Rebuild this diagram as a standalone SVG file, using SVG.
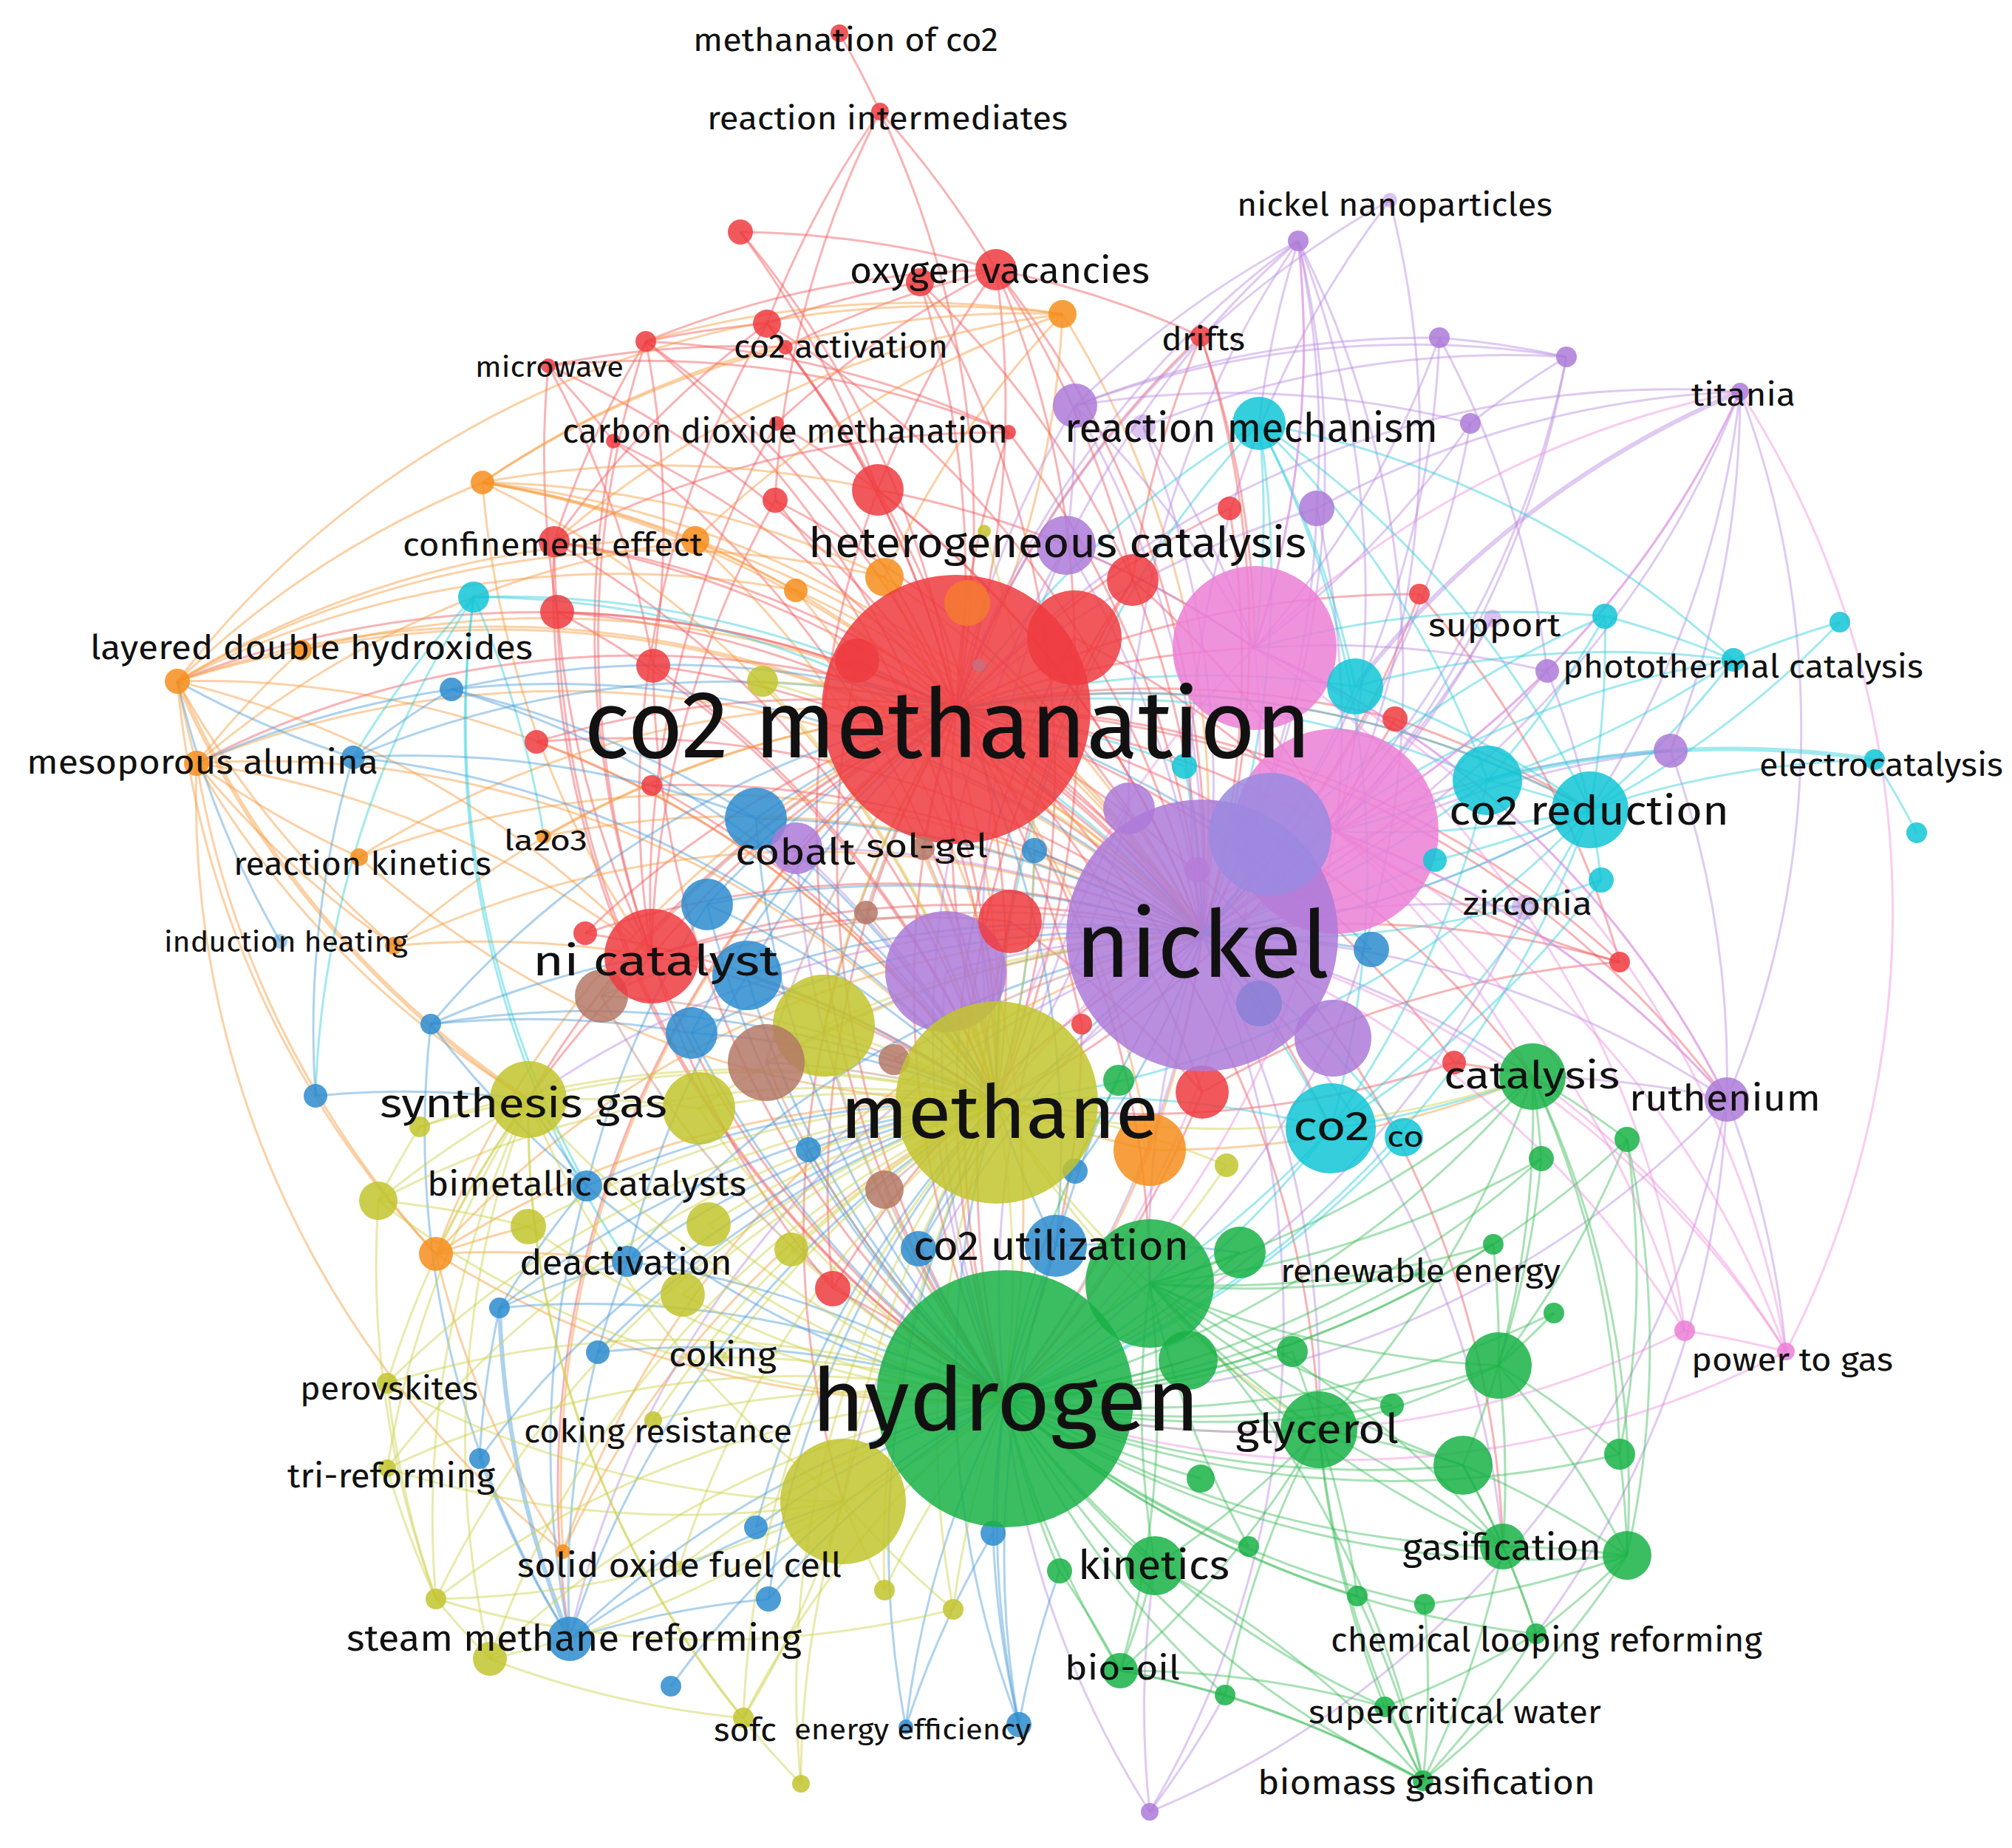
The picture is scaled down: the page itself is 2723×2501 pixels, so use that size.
<svg xmlns="http://www.w3.org/2000/svg" width="2723" height="2501" viewBox="0 0 2723 2501">
<style>
.R{fill:#ee3b40}.G{fill:#19b246}.B{fill:#2d8ccf}.Y{fill:#c2c42e}.P{fill:#ad7ad8}.C{fill:#10c6d6}.O{fill:#f68e1c}.N{fill:#b47866}.K{fill:#ec7fd6}
circle{fill-opacity:.85}
circle.f{fill-opacity:.45}
text{font-family:"Fira Sans","Open Sans","Noto Sans",sans-serif;fill:#111}
#edges path{fill:none;stroke-width:3;stroke-opacity:.45}
#edges path.t{stroke-width:6}
.er path{stroke:#f0565a}.eo path{stroke:#f79a3a}.ep path{stroke:#b98ae0}.ec path{stroke:#2fcfdc}.eb path{stroke:#4b9bd8}.ey path{stroke:#cdd048}.en path{stroke:#bf8f82}.eg path{stroke:#3dbd5c}.ek path{stroke:#f08ddd}
</style>
<rect width="2723" height="2501" fill="#fff"/>
<g id="edges">
<g class="er">
<path d="M1136 45A1300 1300 0 0 1 1191 151"/><path d="M1191 151A1300 1300 0 0 1 1348 365"/><path d="M1191 151A1300 1300 0 0 0 1038 438"/><path d="M1191 151A1300 1300 0 0 1 1294 960"/><path d="M1191 151A1300 1300 0 0 0 1049 677"/>
<path d="M1002 314A1300 1300 0 0 1 1348 365"/><path d="M1002 314A1300 1300 0 0 1 1294 960"/><path d="M1002 314A1300 1300 0 0 1 1188 663"/>
<path d="M1348 365A1300 1300 0 0 1 1625 455"/><path d="M1348 365A1300 1300 0 0 1 1294 960"/><path d="M1348 365A1300 1300 0 0 1 1627 1266"/><path d="M1348 365A1300 1300 0 0 1 1533 785"/><path d="M1348 365A1300 1300 0 0 0 1188 663"/><path d="M1348 365A1300 1300 0 0 0 874 462"/><path d="M1348 365A1300 1300 0 0 1 1454 863"/><path d="M1348 365A1300 1300 0 0 0 1051 573"/>
<path d="M1245 382A1300 1300 0 0 0 1038 438"/><path d="M1245 382A1300 1300 0 0 1 1294 960"/><path d="M1245 382A1300 1300 0 0 1 1533 785"/><path d="M1245 382A1300 1300 0 0 1 1349 1492"/>
<path d="M1038 438A1300 1300 0 0 0 874 462"/><path d="M1038 438A1300 1300 0 0 1 1294 960"/><path d="M1038 438A1300 1300 0 0 1 1188 663"/><path d="M1038 438A1300 1300 0 0 0 882 1294"/><path d="M1038 438A1300 1300 0 0 0 750 733"/><path d="M1038 438A1300 1300 0 0 1 1627 1266"/>
<path d="M874 462A1300 1300 0 0 1 1365 585"/><path d="M874 462A1300 1300 0 0 1 1294 960"/><path d="M874 462A1300 1300 0 0 0 750 733"/><path d="M874 462A1300 1300 0 0 1 884 901"/><path d="M874 462A1300 1300 0 0 0 882 1294"/><path d="M874 462A1300 1300 0 0 1 1349 1492"/>
<path d="M742 495A1300 1300 0 0 1 830 597"/><path d="M742 495A1300 1300 0 0 1 1294 960"/><path d="M742 495A1300 1300 0 0 0 754 828"/><path d="M742 495A1300 1300 0 0 1 1365 585"/><path d="M742 495A1300 1300 0 0 1 884 901"/>
<path d="M1625 455A1300 1300 0 0 0 1294 960"/><path d="M1625 455A1300 1300 0 0 1 1627 1266"/><path d="M1625 455A1300 1300 0 0 0 1533 785"/><path d="M1625 455A1300 1300 0 0 1 1698 877"/>
<path d="M1365 585A1300 1300 0 0 0 1294 960"/><path d="M1365 585A1300 1300 0 0 1 1627 1266"/><path d="M1365 585A1300 1300 0 0 0 750 733"/>
<path d="M1051 573A1300 1300 0 0 1 1294 960"/><path d="M1051 573A1300 1300 0 0 0 882 1294"/><path d="M1051 573A1300 1300 0 0 1 1627 1266"/>
<path d="M830 597A1300 1300 0 0 1 1294 960"/><path d="M830 597A1300 1300 0 0 0 882 1294"/><path d="M830 597A1300 1300 0 0 1 1349 1492"/>
<path d="M1188 663A1300 1300 0 0 1 1627 1266"/><path d="M1188 663A1300 1300 0 0 1 1349 1492"/><path d="M1188 663A1300 1300 0 0 0 1360 1893"/><path d="M1188 663A1300 1300 0 0 1 1698 877"/>
<path d="M1049 677A1300 1300 0 0 1 1627 1266"/><path d="M1049 677A1300 1300 0 0 0 882 1294"/><path d="M1049 677A1300 1300 0 0 1 1349 1492"/>
<path d="M750 733A1300 1300 0 0 1 1294 960"/><path d="M750 733A1300 1300 0 0 0 882 1294"/><path d="M750 733A1300 1300 0 0 1 1627 1266"/><path d="M750 733A1300 1300 0 0 1 1349 1492"/><path d="M750 733A1300 1300 0 0 0 1360 1893"/>
<path d="M1664 688A1300 1300 0 0 0 1294 960"/><path d="M1664 688A1300 1300 0 0 1 1627 1266"/>
<path d="M1533 785A1300 1300 0 0 1 1627 1266"/><path d="M1533 785A1300 1300 0 0 0 1349 1492"/><path d="M1533 785A1300 1300 0 0 0 1360 1893"/><path d="M1533 785A1300 1300 0 0 1 1808 1125"/>
<path d="M754 828A1300 1300 0 0 1 1294 960"/><path d="M754 828A1300 1300 0 0 1 1627 1266"/><path d="M754 828A1300 1300 0 0 1 1349 1492"/><path d="M754 828A1300 1300 0 0 0 1360 1893"/>
<path d="M884 901A1300 1300 0 0 1 1627 1266"/><path d="M884 901A1300 1300 0 0 1 1349 1492"/><path d="M884 901A1300 1300 0 0 0 1360 1893"/>
<path d="M1454 863A1300 1300 0 0 1 1349 1492"/><path d="M1454 863A1300 1300 0 0 0 1360 1893"/><path d="M1454 863A1300 1300 0 0 1 1808 1125"/>
<path d="M1160 894A1300 1300 0 0 1 1627 1266"/><path d="M1160 894A1300 1300 0 0 0 1360 1893"/>
<path d="M726 1004A1300 1300 0 0 1 1294 960"/><path d="M726 1004A1300 1300 0 0 1 1627 1266"/><path d="M726 1004A1300 1300 0 0 1 1349 1492"/>
<path d="M882 1063A1300 1300 0 0 1 1627 1266"/><path d="M882 1063A1300 1300 0 0 1 1349 1492"/>
<path d="M1921 804A1300 1300 0 0 0 1294 960"/><path d="M1921 804A1300 1300 0 0 1 1627 1266"/><path d="M1921 804A1300 1300 0 0 1 2192 1302"/>
<path d="M1888 973A1300 1300 0 0 0 1294 960"/><path d="M1888 973A1300 1300 0 0 1 2152 1096"/><path d="M1888 973A1300 1300 0 0 1 1349 1492"/>
<path d="M882 1294A1300 1300 0 0 1 1294 960"/><path d="M882 1294A1300 1300 0 0 1 1627 1266"/><path d="M882 1294A1300 1300 0 0 1 1349 1492"/><path d="M882 1294A1300 1300 0 0 0 1360 1893"/><path d="M882 1294A1300 1300 0 0 0 715 1488"/><path d="M882 1294A1300 1300 0 0 0 1127 1744"/><path d="M882 1294A1300 1300 0 0 1 1367 1247"/>
<path d="M792 1263A1300 1300 0 0 1 1294 960"/><path d="M792 1263A1300 1300 0 0 1 1627 1266"/><path d="M792 1263A1300 1300 0 0 1 1349 1492"/>
<path d="M1367 1247A1300 1300 0 0 1 1627 1478"/><path d="M1367 1247A1300 1300 0 0 0 1360 1893"/>
<path d="M1464 1386A1300 1300 0 0 0 1294 960"/><path d="M1464 1386A1300 1300 0 0 1 1360 1893"/>
<path d="M1627 1478A1300 1300 0 0 0 1294 960"/><path d="M1627 1478A1300 1300 0 0 1 1360 1893"/><path d="M1627 1478A1300 1300 0 0 1 2192 1302"/>
<path d="M1968 1438A1300 1300 0 0 0 1294 960"/><path d="M1968 1438A1300 1300 0 0 1 1349 1492"/><path d="M1968 1438A1300 1300 0 0 1 2074 1457"/>
<path d="M2192 1302A1300 1300 0 0 0 1294 960"/><path d="M2192 1302A1300 1300 0 0 0 1627 1266"/><path d="M2192 1302A1300 1300 0 0 1 1808 1125"/>
<path d="M1127 1744A1300 1300 0 0 1 1294 960"/><path d="M1127 1744A1300 1300 0 0 1 1627 1266"/><path d="M1127 1744A1300 1300 0 0 1 1360 1893"/>
<path d="M1294 960A1300 1300 0 0 1 1627 1266"/><path d="M1294 960A1300 1300 0 0 0 1349 1492"/><path d="M1294 960A1300 1300 0 0 0 1360 1893"/><path d="M1294 960A1300 1300 0 0 1 1698 877"/><path d="M1294 960A1300 1300 0 0 1 1808 1125"/><path d="M1294 960A1300 1300 0 0 1 1556 1737"/><path d="M1294 960A1300 1300 0 0 1 2152 1096"/><path d="M1294 960A1300 1300 0 0 1 1801 1527"/><path d="M1294 960A1300 1300 0 0 0 715 1488"/><path d="M1294 960A1300 1300 0 0 0 1141 2032"/><path d="M1294 960A1300 1300 0 0 1 1785 1935"/><path d="M1294 960A1300 1300 0 0 1 2074 1457"/><path d="M1294 960A1300 1300 0 0 1 2337 1488"/><path d="M1294 960A1300 1300 0 0 0 240 922"/><path d="M1294 960A1300 1300 0 0 0 266 1033"/><path d="M1294 960A1300 1300 0 0 0 771 2218"/><path d="M1294 960A1300 1300 0 0 1 2034 2093"/>
<path d="M1063 470A1300 1300 0 0 1 1294 960"/><path d="M1063 470A1300 1300 0 0 0 742 495"/><path d="M1063 470A1300 1300 0 0 1 1348 365"/>
</g>
<g class="eo">
<path d="M1438 425A1300 1300 0 0 0 653 653"/><path d="M1438 425A1300 1300 0 0 0 941 731"/><path d="M1438 425A1300 1300 0 0 0 874 462"/><path d="M1438 425A1300 1300 0 0 1 1294 960"/><path d="M1438 425A1300 1300 0 0 0 1197 781"/><path d="M1438 425A1300 1300 0 0 0 750 733"/><path d="M1438 425A1300 1300 0 0 1 1627 1266"/><path d="M1438 425A1300 1300 0 0 0 240 922"/>
<path d="M653 653A1300 1300 0 0 1 1294 960"/><path d="M653 653A1300 1300 0 0 1 941 731"/><path d="M653 653A1300 1300 0 0 1 1197 781"/><path d="M653 653A1300 1300 0 0 1 1188 663"/><path d="M653 653A1300 1300 0 0 1 1627 1266"/><path d="M653 653A1300 1300 0 0 1 1077 799"/><path d="M653 653A1300 1300 0 0 0 882 1294"/><path d="M653 653A1300 1300 0 0 1 1349 1492"/><path d="M653 653A1300 1300 0 0 1 1063 470"/>
<path d="M941 731A1300 1300 0 0 1 1294 960"/><path d="M941 731A1300 1300 0 0 1 1627 1266"/><path d="M941 731A1300 1300 0 0 1 1349 1492"/><path d="M941 731A1300 1300 0 0 0 240 922"/><path d="M941 731A1300 1300 0 0 0 266 1033"/>
<path d="M1197 781A1300 1300 0 0 1 1627 1266"/><path d="M1197 781A1300 1300 0 0 1 1349 1492"/>
<path d="M1077 799A1300 1300 0 0 1 1627 1266"/><path d="M1077 799A1300 1300 0 0 0 240 922"/><path d="M1077 799A1300 1300 0 0 1 1360 1893"/>
<path d="M240 922A1300 1300 0 0 1 408 880"/><path d="M240 922A1300 1300 0 0 0 266 1033"/><path d="M240 922A1300 1300 0 0 1 1627 1266"/><path d="M240 922A1300 1300 0 0 1 1349 1492"/><path d="M240 922A1300 1300 0 0 0 590 1697"/><path class="t" d="M240 922A1300 1300 0 0 0 715 1488"/><path d="M240 922A1300 1300 0 0 0 533 1280"/><path d="M240 922A1300 1300 0 0 1 882 1294"/><path d="M240 922A1300 1300 0 0 1 653 653"/><path d="M240 922A1300 1300 0 0 1 1197 781"/>
<path d="M408 880A1300 1300 0 0 1 1294 960"/><path d="M408 880A1300 1300 0 0 0 266 1033"/><path d="M408 880A1300 1300 0 0 1 1627 1266"/>
<path d="M266 1033A1300 1300 0 0 1 1627 1266"/><path d="M266 1033A1300 1300 0 0 1 1349 1492"/><path d="M266 1033A1300 1300 0 0 0 486 1160"/><path d="M266 1033A1300 1300 0 0 0 590 1697"/><path d="M266 1033A1300 1300 0 0 0 533 1280"/><path d="M266 1033A1300 1300 0 0 1 882 1294"/><path d="M266 1033A1300 1300 0 0 0 715 1488"/><path d="M266 1033A1300 1300 0 0 0 762 2100"/>
<path d="M736 1132A1300 1300 0 0 1 1294 960"/><path d="M736 1132A1300 1300 0 0 1 1627 1266"/>
<path d="M486 1160A1300 1300 0 0 1 1294 960"/><path d="M486 1160A1300 1300 0 0 1 1627 1266"/><path d="M486 1160A1300 1300 0 0 0 1349 1492"/>
<path d="M533 1280A1300 1300 0 0 1 1294 960"/><path d="M533 1280A1300 1300 0 0 1 1627 1266"/><path d="M533 1280A1300 1300 0 0 1 882 1294"/>
<path d="M590 1697A1300 1300 0 0 1 1294 960"/><path d="M590 1697A1300 1300 0 0 1 1627 1266"/><path d="M590 1697A1300 1300 0 0 1 1349 1492"/><path d="M590 1697A1300 1300 0 0 0 1360 1893"/><path d="M590 1697A1300 1300 0 0 1 715 1660"/><path d="M590 1697A1300 1300 0 0 0 762 2100"/><path d="M590 1697A1300 1300 0 0 1 849 1707"/>
<path d="M762 2100A1300 1300 0 0 1 1294 960"/><path d="M762 2100A1300 1300 0 0 1 1627 1266"/><path d="M762 2100A1300 1300 0 0 1 1349 1492"/>
<path d="M1556 1556A1300 1300 0 0 0 1294 960"/><path d="M1556 1556A1300 1300 0 0 0 1627 1266"/><path d="M1556 1556A1300 1300 0 0 1 1349 1492"/><path d="M1556 1556A1300 1300 0 0 1 1360 1893"/><path d="M1556 1556A1300 1300 0 0 0 2074 1457"/>
</g>
<g class="ep">
<path d="M1757 326A1300 1300 0 0 0 1455 549"/><path d="M1757 326A1300 1300 0 0 1 1627 1266"/><path d="M1757 326A1300 1300 0 0 0 1294 960"/><path d="M1757 326A1300 1300 0 0 0 1443 738"/><path d="M1757 326A1300 1300 0 0 1 1698 877"/><path d="M1757 326A1300 1300 0 0 1 1782 688"/><path d="M1757 326A1300 1300 0 0 0 1704 573"/><path d="M1757 326A1300 1300 0 0 1 1808 1125"/><path d="M1757 326A1300 1300 0 0 0 1528 1094"/><path d="M1757 326A1300 1300 0 0 1 1804 1405"/>
<path d="M1881 271A1300 1300 0 0 0 1627 1266"/><path d="M1881 271A1300 1300 0 0 1 1808 1125"/><path d="M1881 271A1300 1300 0 0 0 1294 960"/>
<path d="M1948 457A1300 1300 0 0 1 1627 1266"/><path d="M1948 457A1300 1300 0 0 1 1698 877"/><path d="M1948 457A1300 1300 0 0 0 1455 549"/><path d="M1948 457A1300 1300 0 0 1 2120 483"/><path d="M1948 457A1300 1300 0 0 1 2094 908"/>
<path d="M2120 483A1300 1300 0 0 1 1627 1266"/><path d="M2120 483A1300 1300 0 0 0 1455 549"/><path d="M2120 483A1300 1300 0 0 0 1547 578"/><path d="M2120 483A1300 1300 0 0 1 1808 1125"/><path d="M2120 483A1300 1300 0 0 0 1990 573"/>
<path d="M2355 530A1300 1300 0 0 1 1627 1266"/><path d="M2355 530A1300 1300 0 0 1 2152 1096"/><path d="M2355 530A1300 1300 0 0 1 2261 1016"/><path d="M2355 530A1300 1300 0 0 1 2337 1488"/><path d="M2355 530A1300 1300 0 0 1 1808 1125"/><path class="t" d="M2355 530A1300 1300 0 0 0 1834 929"/><path d="M2355 530A1300 1300 0 0 0 1782 688"/><path d="M2355 530A1300 1300 0 0 0 1294 960"/>
<path d="M1990 573A1300 1300 0 0 1 1627 1266"/><path d="M1990 573A1300 1300 0 0 1 1698 877"/><path d="M1990 573A1300 1300 0 0 0 1455 549"/>
<path d="M1455 549A1300 1300 0 0 1 1627 1266"/><path d="M1455 549A1300 1300 0 0 0 1294 960"/><path d="M1455 549A1300 1300 0 0 1 1443 738"/><path d="M1455 549A1300 1300 0 0 1 1698 877"/>
<path d="M1547 578A1300 1300 0 0 1 1627 1266"/><path d="M1547 578A1300 1300 0 0 1 1698 877"/>
<path d="M1782 688A1300 1300 0 0 1 1627 1266"/><path d="M1782 688A1300 1300 0 0 0 1294 960"/><path d="M1782 688A1300 1300 0 0 1 1808 1125"/>
<path d="M1443 738A1300 1300 0 0 1 1627 1266"/><path d="M1443 738A1300 1300 0 0 1 1698 877"/><path d="M1443 738A1300 1300 0 0 0 1349 1492"/><path d="M1443 738A1300 1300 0 0 0 1360 1893"/>
<path d="M2020 837A1300 1300 0 0 1 1627 1266"/><path d="M2020 837A1300 1300 0 0 1 1808 1125"/>
<path d="M2094 908A1300 1300 0 0 1 1627 1266"/><path d="M2094 908A1300 1300 0 0 1 2152 1096"/><path d="M2094 908A1300 1300 0 0 0 1698 877"/>
<path d="M2261 1016A1300 1300 0 0 0 1627 1266"/><path d="M2261 1016A1300 1300 0 0 1 2337 1488"/><path d="M2261 1016A1300 1300 0 0 0 1808 1125"/>
<path d="M1528 1094A1300 1300 0 0 1 1349 1492"/><path d="M1528 1094A1300 1300 0 0 0 1360 1893"/>
<path d="M1078 1148A1300 1300 0 0 1 1627 1266"/><path d="M1078 1148A1300 1300 0 0 1 1294 960"/><path d="M1078 1148A1300 1300 0 0 1 1349 1492"/><path d="M1078 1148A1300 1300 0 0 0 1360 1893"/>
<path d="M1280 1315A1300 1300 0 0 1 1627 1266"/><path d="M1280 1315A1300 1300 0 0 0 1360 1893"/>
<path d="M2063 1228A1300 1300 0 0 0 1627 1266"/><path d="M2063 1228A1300 1300 0 0 1 1360 1893"/>
<path d="M1804 1405A1300 1300 0 0 1 1360 1893"/>
<path d="M2337 1488A1300 1300 0 0 0 1627 1266"/><path d="M2337 1488A1300 1300 0 0 0 1808 1125"/><path d="M2337 1488A1300 1300 0 0 1 1360 1893"/><path d="M2337 1488A1300 1300 0 0 1 2417 1829"/><path d="M2337 1488A1300 1300 0 0 0 2074 1457"/><path d="M2337 1488A1300 1300 0 0 0 1698 877"/><path d="M2337 1488A1300 1300 0 0 1 1556 2452"/><path d="M2337 1488A1300 1300 0 0 1 2079 2211"/>
<path d="M1556 2452A1300 1300 0 0 0 1627 1266"/><path d="M1556 2452A1300 1300 0 0 1 1360 1893"/><path d="M1556 2452A1300 1300 0 0 1 1563 2119"/><path d="M1556 2452A1300 1300 0 0 0 1658 2294"/>
<path d="M1627 1266A1300 1300 0 0 1 1349 1492"/><path d="M1627 1266A1300 1300 0 0 1 1360 1893"/><path d="M1627 1266A1300 1300 0 0 0 1556 1737"/><path d="M1627 1266A1300 1300 0 0 0 2152 1096"/><path d="M1627 1266A1300 1300 0 0 1 2074 1457"/><path d="M1627 1266A1300 1300 0 0 0 715 1488"/><path d="M1627 1266A1300 1300 0 0 0 1141 2032"/><path d="M1627 1266A1300 1300 0 0 1 1785 1935"/><path d="M1627 1266A1300 1300 0 0 1 2034 2093"/><path d="M1627 1266A1300 1300 0 0 0 771 2218"/>
</g>
<g class="ec">
<path d="M1704 573A1300 1300 0 0 0 1294 960"/><path d="M1704 573A1300 1300 0 0 1 1627 1266"/><path d="M1704 573A1300 1300 0 0 1 2152 1096"/><path d="M1704 573A1300 1300 0 0 1 1698 877"/><path d="M1704 573A1300 1300 0 0 1 2013 1056"/><path d="M1704 573A1300 1300 0 0 1 1834 929"/><path d="M1704 573A1300 1300 0 0 0 1349 1492"/><path d="M1704 573A1300 1300 0 0 1 1801 1527"/><path d="M1704 573A1300 1300 0 0 1 2346 893"/>
<path d="M641 808A1300 1300 0 0 1 1294 960"/><path d="M641 808A1300 1300 0 0 1 1627 1266"/><path d="M641 808A1300 1300 0 0 0 427 1483"/><path d="M641 808A1300 1300 0 0 0 849 1707"/><path d="M641 808A1300 1300 0 0 0 794 1605"/><path d="M641 808A1300 1300 0 0 1 736 1132"/><path d="M641 808A1300 1300 0 0 0 478 1025"/>
<path d="M2172 834A1300 1300 0 0 1 2152 1096"/><path d="M2172 834A1300 1300 0 0 1 2013 1056"/><path d="M2172 834A1300 1300 0 0 0 1627 1266"/><path d="M2172 834A1300 1300 0 0 0 1698 877"/><path d="M2172 834A1300 1300 0 0 1 2346 893"/>
<path d="M2490 842A1300 1300 0 0 0 2346 893"/><path d="M2490 842A1300 1300 0 0 1 2152 1096"/>
<path d="M2346 893A1300 1300 0 0 1 2152 1096"/><path d="M2346 893A1300 1300 0 0 1 2013 1056"/><path d="M2346 893A1300 1300 0 0 0 1627 1266"/><path d="M2346 893A1300 1300 0 0 0 1834 929"/>
<path d="M1834 929A1300 1300 0 0 1 1627 1266"/><path d="M1834 929A1300 1300 0 0 0 1294 960"/><path d="M1834 929A1300 1300 0 0 1 2152 1096"/>
<path d="M2013 1056A1300 1300 0 0 1 1627 1266"/><path d="M2013 1056A1300 1300 0 0 1 2152 1096"/><path d="M2013 1056A1300 1300 0 0 0 1294 960"/><path d="M2013 1056A1300 1300 0 0 1 1801 1527"/><path d="M2013 1056A1300 1300 0 0 1 1808 1125"/>
<path d="M2537 1028A1300 1300 0 0 0 2152 1096"/><path d="M2537 1028A1300 1300 0 0 1 2594 1127"/><path class="t" d="M2537 1028A1300 1300 0 0 0 2013 1056"/>
<path d="M2152 1096A1300 1300 0 0 1 1627 1266"/><path d="M2152 1096A1300 1300 0 0 0 1294 960"/><path d="M2152 1096A1300 1300 0 0 1 1801 1527"/><path d="M2152 1096A1300 1300 0 0 1 1349 1492"/><path d="M2152 1096A1300 1300 0 0 1 1360 1893"/><path d="M2152 1096A1300 1300 0 0 1 2167 1191"/><path d="M2152 1096A1300 1300 0 0 1 1808 1125"/>
<path d="M1603 1037A1300 1300 0 0 0 1294 960"/><path d="M1603 1037A1300 1300 0 0 1 1627 1266"/>
<path d="M1942 1164A1300 1300 0 0 1 1627 1266"/><path d="M1942 1164A1300 1300 0 0 0 2152 1096"/>
<path d="M2167 1191A1300 1300 0 0 1 1627 1266"/><path d="M2167 1191A1300 1300 0 0 1 1801 1527"/>
<path d="M1801 1527A1300 1300 0 0 1 1360 1893"/><path d="M1801 1527A1300 1300 0 0 0 1349 1492"/><path d="M1801 1527A1300 1300 0 0 0 1627 1266"/><path d="M1801 1527A1300 1300 0 0 1 1556 1737"/><path d="M1801 1527A1300 1300 0 0 0 2074 1457"/>
<path d="M1900 1539A1300 1300 0 0 0 1627 1266"/><path d="M1900 1539A1300 1300 0 0 1 1360 1893"/>
</g>
<g class="eb">
<path d="M611 933A1300 1300 0 0 1 1294 960"/><path d="M611 933A1300 1300 0 0 0 478 1025"/><path d="M611 933A1300 1300 0 0 1 1023 1108"/><path d="M611 933A1300 1300 0 0 1 1627 1266"/><path d="M611 933A1300 1300 0 0 1 1349 1492"/><path d="M611 933A1300 1300 0 0 0 266 1033"/>
<path d="M478 1025A1300 1300 0 0 1 1294 960"/><path d="M478 1025A1300 1300 0 0 1 1023 1108"/><path d="M478 1025A1300 1300 0 0 0 427 1483"/><path d="M478 1025A1300 1300 0 0 1 240 922"/><path d="M478 1025A1300 1300 0 0 1 1349 1492"/>
<path d="M1023 1108A1300 1300 0 0 1 1294 960"/><path d="M1023 1108A1300 1300 0 0 1 1627 1266"/><path d="M1023 1108A1300 1300 0 0 1 1349 1492"/><path d="M1023 1108A1300 1300 0 0 0 1360 1893"/>
<path d="M957 1224A1300 1300 0 0 1 1294 960"/><path d="M957 1224A1300 1300 0 0 1 1627 1266"/><path d="M957 1224A1300 1300 0 0 1 1349 1492"/><path d="M957 1224A1300 1300 0 0 0 1360 1893"/>
<path d="M1400 1151A1300 1300 0 0 1 1627 1266"/><path d="M1400 1151A1300 1300 0 0 1 1349 1492"/>
<path d="M1011 1320A1300 1300 0 0 1 1294 960"/><path d="M1011 1320A1300 1300 0 0 1 1627 1266"/><path d="M1011 1320A1300 1300 0 0 1 1349 1492"/><path d="M1011 1320A1300 1300 0 0 0 1360 1893"/><path d="M1011 1320A1300 1300 0 0 0 849 1707"/>
<path d="M583 1386A1300 1300 0 0 1 1349 1492"/><path d="M583 1386A1300 1300 0 0 0 794 1605"/><path d="M583 1386A1300 1300 0 0 1 882 1294"/><path d="M583 1386A1300 1300 0 0 1 936 1398"/><path d="M583 1386A1300 1300 0 0 1 1294 960"/>
<path d="M936 1398A1300 1300 0 0 1 1627 1266"/><path d="M936 1398A1300 1300 0 0 1 1349 1492"/><path d="M936 1398A1300 1300 0 0 0 1360 1893"/><path d="M936 1398A1300 1300 0 0 1 1294 960"/>
<path d="M427 1483A1300 1300 0 0 1 715 1488"/>
<path d="M1094 1556A1300 1300 0 0 1 1349 1492"/><path d="M1094 1556A1300 1300 0 0 0 1360 1893"/>
<path d="M1455 1585A1300 1300 0 0 0 1627 1266"/>
<path d="M794 1605A1300 1300 0 0 1 1349 1492"/><path d="M794 1605A1300 1300 0 0 0 1360 1893"/><path d="M794 1605A1300 1300 0 0 1 957 1224"/><path d="M794 1605A1300 1300 0 0 1 715 1488"/><path d="M794 1605A1300 1300 0 0 0 676 1770"/>
<path d="M1243 1690A1300 1300 0 0 1 1349 1492"/><path d="M1243 1690A1300 1300 0 0 0 1360 1893"/><path d="M1243 1690A1300 1300 0 0 1 1627 1266"/>
<path d="M1429 1686A1300 1300 0 0 1 1349 1492"/><path d="M1429 1686A1300 1300 0 0 0 1360 1893"/><path d="M1429 1686A1300 1300 0 0 1 1627 1266"/><path d="M1429 1686A1300 1300 0 0 0 1294 960"/><path d="M1429 1686A1300 1300 0 0 1 1678 1695"/>
<path d="M849 1707A1300 1300 0 0 1 1349 1492"/><path d="M849 1707A1300 1300 0 0 1 1360 1893"/><path d="M849 1707A1300 1300 0 0 1 1627 1266"/><path d="M849 1707A1300 1300 0 0 0 676 1770"/><path d="M849 1707A1300 1300 0 0 0 809 1830"/>
<path d="M676 1770A1300 1300 0 0 1 1349 1492"/><path class="t" d="M676 1770A1300 1300 0 0 0 771 2218"/><path d="M676 1770A1300 1300 0 0 1 1360 1893"/>
<path d="M809 1830A1300 1300 0 0 1 1349 1492"/><path d="M809 1830A1300 1300 0 0 1 1360 1893"/><path d="M809 1830A1300 1300 0 0 0 771 2218"/>
<path d="M649 1974A1300 1300 0 0 1 1349 1492"/><path d="M649 1974A1300 1300 0 0 1 676 1770"/><path d="M649 1974A1300 1300 0 0 0 771 2218"/>
<path d="M1023 2067A1300 1300 0 0 1 1360 1893"/><path d="M1023 2067A1300 1300 0 0 1 1349 1492"/>
<path d="M1344 2075A1300 1300 0 0 1 1360 1893"/><path d="M1344 2075A1300 1300 0 0 0 1379 2334"/><path d="M1344 2075A1300 1300 0 0 0 1226 2337"/>
<path d="M1040 2164A1300 1300 0 0 1 1360 1893"/><path d="M1040 2164A1300 1300 0 0 1 1349 1492"/><path d="M1040 2164A1300 1300 0 0 0 771 2218"/>
<path d="M771 2218A1300 1300 0 0 1 1349 1492"/><path d="M771 2218A1300 1300 0 0 1 1360 1893"/><path d="M771 2218A1300 1300 0 0 1 583 1386"/><path d="M771 2218A1300 1300 0 0 1 1141 2032"/><path d="M771 2218A1300 1300 0 0 1 794 1605"/>
<path d="M908 2282A1300 1300 0 0 1 1360 1893"/>
<path d="M1226 2337A1300 1300 0 0 1 1360 1893"/><path d="M1226 2337A1300 1300 0 0 1 1349 1492"/>
<path d="M1379 2334A1300 1300 0 0 1 1360 1893"/><path d="M1379 2334A1300 1300 0 0 1 1349 1492"/><path d="M1379 2334A1300 1300 0 0 1 1429 1686"/><path d="M1379 2334A1300 1300 0 0 1 1434 2126"/>
<path d="M1856 1285A1300 1300 0 0 0 1294 960"/><path d="M1856 1285A1300 1300 0 0 0 1627 1266"/>
<path d="M379 1274A1300 1300 0 0 1 240 922"/>
</g>
<g class="ey">
<path d="M1332 719A1300 1300 0 0 1 1349 1492"/>
<path d="M1032 922A1300 1300 0 0 1 1349 1492"/><path d="M1032 922A1300 1300 0 0 1 1294 960"/><path d="M1032 922A1300 1300 0 0 1 1627 1266"/>
<path d="M1115 1388A1300 1300 0 0 1 1349 1492"/><path d="M1115 1388A1300 1300 0 0 1 1294 960"/><path d="M1115 1388A1300 1300 0 0 1 1627 1266"/><path d="M1115 1388A1300 1300 0 0 0 1360 1893"/>
<path d="M715 1488A1300 1300 0 0 1 1349 1492"/><path d="M715 1488A1300 1300 0 0 0 1360 1893"/><path d="M715 1488A1300 1300 0 0 0 568 1525"/><path d="M715 1488A1300 1300 0 0 1 946 1500"/><path d="M715 1488A1300 1300 0 0 0 512 1625"/><path d="M715 1488A1300 1300 0 0 0 524 1872"/><path d="M715 1488A1300 1300 0 0 0 524 1987"/><path d="M715 1488A1300 1300 0 0 0 590 2164"/><path d="M715 1488A1300 1300 0 0 0 663 2245"/><path d="M715 1488A1300 1300 0 0 0 1141 2032"/><path d="M715 1488A1300 1300 0 0 0 590 1697"/>
<path d="M946 1500A1300 1300 0 0 1 1349 1492"/><path d="M946 1500A1300 1300 0 0 0 1360 1893"/><path d="M946 1500A1300 1300 0 0 1 1627 1266"/>
<path d="M568 1525A1300 1300 0 0 1 1349 1492"/><path d="M568 1525A1300 1300 0 0 0 512 1625"/>
<path d="M512 1625A1300 1300 0 0 1 1349 1492"/><path d="M512 1625A1300 1300 0 0 0 1360 1893"/><path d="M512 1625A1300 1300 0 0 1 715 1660"/><path d="M512 1625A1300 1300 0 0 0 590 2164"/>
<path d="M715 1660A1300 1300 0 0 1 1349 1492"/><path d="M715 1660A1300 1300 0 0 0 1360 1893"/>
<path d="M959 1657A1300 1300 0 0 1 1349 1492"/><path d="M959 1657A1300 1300 0 0 0 1360 1893"/>
<path d="M1071 1691A1300 1300 0 0 1 1349 1492"/><path d="M1071 1691A1300 1300 0 0 0 1360 1893"/>
<path d="M924 1752A1300 1300 0 0 1 1349 1492"/><path d="M924 1752A1300 1300 0 0 0 1360 1893"/>
<path d="M524 1872A1300 1300 0 0 1 1349 1492"/><path d="M524 1872A1300 1300 0 0 1 1360 1893"/><path d="M524 1872A1300 1300 0 0 0 1141 2032"/><path d="M524 1872A1300 1300 0 0 0 590 2164"/>
<path d="M884 1922A1300 1300 0 0 1 1349 1492"/><path d="M884 1922A1300 1300 0 0 1 1360 1893"/>
<path d="M524 1987A1300 1300 0 0 1 1349 1492"/><path d="M524 1987A1300 1300 0 0 1 1360 1893"/><path d="M524 1987A1300 1300 0 0 0 1141 2032"/><path d="M524 1987A1300 1300 0 0 0 590 2164"/>
<path d="M1141 2032A1300 1300 0 0 1 1349 1492"/><path d="M1141 2032A1300 1300 0 0 0 1360 1893"/><path d="M1141 2032A1300 1300 0 0 1 590 2164"/><path d="M1141 2032A1300 1300 0 0 1 663 2245"/><path d="M1141 2032A1300 1300 0 0 1 1006 2325"/><path d="M1141 2032A1300 1300 0 0 0 1197 2152"/><path d="M1141 2032A1300 1300 0 0 0 1290 2178"/>
<path d="M590 2164A1300 1300 0 0 1 1349 1492"/><path d="M590 2164A1300 1300 0 0 1 1360 1893"/><path d="M590 2164A1300 1300 0 0 0 663 2245"/><path d="M590 2164A1300 1300 0 0 0 1290 2178"/>
<path d="M1197 2152A1300 1300 0 0 1 1349 1492"/><path d="M1197 2152A1300 1300 0 0 1 1360 1893"/>
<path d="M1290 2178A1300 1300 0 0 1 1360 1893"/><path d="M1290 2178A1300 1300 0 0 1 1349 1492"/>
<path d="M663 2245A1300 1300 0 0 1 1349 1492"/><path d="M663 2245A1300 1300 0 0 1 1360 1893"/><path d="M663 2245A1300 1300 0 0 0 1006 2325"/>
<path d="M1006 2325A1300 1300 0 0 1 1349 1492"/><path d="M1006 2325A1300 1300 0 0 1 1360 1893"/><path d="M1006 2325A1300 1300 0 0 1 715 1488"/>
<path d="M1084 2414A1300 1300 0 0 1 1349 1492"/><path d="M1084 2414A1300 1300 0 0 1 1141 2032"/><path d="M1084 2414A1300 1300 0 0 1 715 1488"/>
<path d="M1660 1577A1300 1300 0 0 0 1349 1492"/><path d="M1660 1577A1300 1300 0 0 1 1360 1893"/>
<path d="M978 1837A1300 1300 0 0 1 1349 1492"/><path d="M978 1837A1300 1300 0 0 1 1360 1893"/>
<path d="M919 2122A1300 1300 0 0 1 1349 1492"/><path d="M919 2122A1300 1300 0 0 1 1360 1893"/>
<path d="M1349 1492A1300 1300 0 0 1 1360 1893"/><path d="M1349 1492A1300 1300 0 0 0 1556 1737"/><path d="M1349 1492A1300 1300 0 0 0 1785 1935"/><path d="M1349 1492A1300 1300 0 0 0 2074 1457"/>
</g>
<g class="en">
<path d="M1249 1148A1300 1300 0 0 1 1294 960"/><path d="M1249 1148A1300 1300 0 0 1 1349 1492"/>
<path d="M1172 1235A1300 1300 0 0 1 1294 960"/><path d="M1172 1235A1300 1300 0 0 1 1349 1492"/>
<path d="M814 1348A1300 1300 0 0 1 1294 960"/><path d="M814 1348A1300 1300 0 0 1 1349 1492"/><path d="M814 1348A1300 1300 0 0 1 1627 1266"/><path d="M814 1348A1300 1300 0 0 0 1360 1893"/>
<path d="M1210 1434A1300 1300 0 0 1 1349 1492"/><path d="M1210 1434A1300 1300 0 0 1 1627 1266"/>
<path d="M1037 1438A1300 1300 0 0 1 1294 960"/><path d="M1037 1438A1300 1300 0 0 1 1349 1492"/><path d="M1037 1438A1300 1300 0 0 1 1627 1266"/><path d="M1037 1438A1300 1300 0 0 0 1360 1893"/>
<path d="M1197 1610A1300 1300 0 0 1 1349 1492"/><path d="M1197 1610A1300 1300 0 0 0 1360 1893"/>
</g>
<g class="eg">
<path d="M1514 1462A1300 1300 0 0 0 1360 1893"/>
<path d="M2074 1457A1300 1300 0 0 1 1360 1893"/><path d="M2074 1457A1300 1300 0 0 1 2202 1542"/><path d="M2074 1457A1300 1300 0 0 1 2086 1568"/><path d="M2074 1457A1300 1300 0 0 1 2028 1848"/><path d="M2074 1457A1300 1300 0 0 1 1785 1935"/><path d="M2074 1457A1300 1300 0 0 1 1556 1737"/><path d="M2074 1457A1300 1300 0 0 1 2192 1968"/><path d="M2074 1457A1300 1300 0 0 1 2202 2105"/>
<path d="M2202 1542A1300 1300 0 0 1 1360 1893"/><path d="M2202 1542A1300 1300 0 0 1 2028 1848"/><path d="M2202 1542A1300 1300 0 0 1 2192 1968"/><path d="M2202 1542A1300 1300 0 0 1 2202 2105"/>
<path d="M2086 1568A1300 1300 0 0 1 1360 1893"/><path d="M2086 1568A1300 1300 0 0 1 1556 1737"/><path d="M2086 1568A1300 1300 0 0 1 2028 1848"/>
<path d="M1678 1695A1300 1300 0 0 1 1360 1893"/><path d="M1678 1695A1300 1300 0 0 1 1556 1737"/>
<path d="M2021 1684A1300 1300 0 0 1 1360 1893"/><path d="M2021 1684A1300 1300 0 0 1 1556 1737"/><path d="M2021 1684A1300 1300 0 0 1 2028 1848"/>
<path d="M2103 1777A1300 1300 0 0 1 1360 1893"/><path d="M2103 1777A1300 1300 0 0 1 2028 1848"/>
<path d="M1749 1829A1300 1300 0 0 1 1360 1893"/><path d="M1749 1829A1300 1300 0 0 1 1785 1935"/>
<path d="M1608 1841A1300 1300 0 0 1 1360 1893"/>
<path d="M2028 1848A1300 1300 0 0 1 1360 1893"/><path d="M2028 1848A1300 1300 0 0 1 1556 1737"/><path d="M2028 1848A1300 1300 0 0 1 1785 1935"/><path d="M2028 1848A1300 1300 0 0 1 1980 1983"/><path d="M2028 1848A1300 1300 0 0 1 2192 1968"/><path d="M2028 1848A1300 1300 0 0 1 2034 2093"/><path d="M2028 1848A1300 1300 0 0 1 2202 2105"/>
<path d="M1884 1902A1300 1300 0 0 1 1360 1893"/><path d="M1884 1902A1300 1300 0 0 1 1556 1737"/>
<path d="M1785 1935A1300 1300 0 0 1 1360 1893"/><path d="M1785 1935A1300 1300 0 0 1 1556 1737"/><path d="M1785 1935A1300 1300 0 0 1 1980 1983"/><path d="M1785 1935A1300 1300 0 0 1 2034 2093"/><path d="M1785 1935A1300 1300 0 0 1 1563 2119"/><path d="M1785 1935A1300 1300 0 0 1 1516 2261"/><path d="M1785 1935A1300 1300 0 0 1 1837 2160"/>
<path d="M1980 1983A1300 1300 0 0 1 1360 1893"/><path d="M1980 1983A1300 1300 0 0 1 2034 2093"/><path d="M1980 1983A1300 1300 0 0 1 2202 2105"/><path d="M1980 1983A1300 1300 0 0 1 1556 1737"/><path d="M1980 1983A1300 1300 0 0 1 2079 2211"/>
<path d="M2192 1968A1300 1300 0 0 1 2202 2105"/><path d="M2192 1968A1300 1300 0 0 1 1360 1893"/>
<path d="M1625 2001A1300 1300 0 0 1 1360 1893"/>
<path d="M1690 2093A1300 1300 0 0 1 1360 1893"/><path d="M1690 2093A1300 1300 0 0 1 1556 1737"/>
<path d="M2034 2093A1300 1300 0 0 1 1360 1893"/><path d="M2034 2093A1300 1300 0 0 1 2202 2105"/><path d="M2034 2093A1300 1300 0 0 1 2079 2211"/><path d="M2034 2093A1300 1300 0 0 1 1926 2410"/><path d="M2034 2093A1300 1300 0 0 1 1556 1737"/>
<path d="M2202 2105A1300 1300 0 0 1 1360 1893"/><path d="M2202 2105A1300 1300 0 0 1 2079 2211"/><path d="M2202 2105A1300 1300 0 0 1 1926 2410"/><path d="M2202 2105A1300 1300 0 0 1 1928 2171"/>
<path d="M1563 2119A1300 1300 0 0 1 1360 1893"/><path d="M1563 2119A1300 1300 0 0 1 1556 1737"/><path d="M1563 2119A1300 1300 0 0 1 1516 2261"/><path d="M1563 2119A1300 1300 0 0 1 1926 2410"/>
<path d="M1434 2126A1300 1300 0 0 1 1360 1893"/><path d="M1434 2126A1300 1300 0 0 1 1516 2261"/>
<path d="M1837 2160A1300 1300 0 0 1 1360 1893"/><path d="M1837 2160A1300 1300 0 0 1 1926 2410"/>
<path d="M1928 2171A1300 1300 0 0 1 1360 1893"/><path d="M1928 2171A1300 1300 0 0 1 1926 2410"/>
<path d="M2079 2211A1300 1300 0 0 1 1360 1893"/><path d="M2079 2211A1300 1300 0 0 1 1926 2410"/><path d="M2079 2211A1300 1300 0 0 1 1874 2310"/>
<path d="M1516 2261A1300 1300 0 0 1 1360 1893"/><path d="M1516 2261A1300 1300 0 0 1 1658 2294"/><path d="M1516 2261A1300 1300 0 0 1 1926 2410"/><path d="M1516 2261A1300 1300 0 0 1 1874 2310"/>
<path d="M1658 2294A1300 1300 0 0 1 1360 1893"/><path d="M1658 2294A1300 1300 0 0 1 1926 2410"/><path d="M1658 2294A1300 1300 0 0 1 1785 1935"/>
<path d="M1874 2310A1300 1300 0 0 1 1360 1893"/><path d="M1874 2310A1300 1300 0 0 1 1926 2410"/><path d="M1874 2310A1300 1300 0 0 1 1785 1935"/>
<path d="M1926 2410A1300 1300 0 0 1 1360 1893"/><path d="M1926 2410A1300 1300 0 0 1 1785 1935"/>
<path d="M1922 1723A1300 1300 0 0 1 1360 1893"/><path d="M1922 1723A1300 1300 0 0 1 1556 1737"/>
<path d="M1360 1893A1300 1300 0 0 1 1556 1737"/><path d="M1556 1737A1300 1300 0 0 1 2034 2093"/><path d="M1556 1737A1300 1300 0 0 1 1516 2261"/><path d="M1556 1737A1300 1300 0 0 1 1926 2410"/>
</g>
<g class="ek">
<path d="M1698 877A1300 1300 0 0 1 2355 530"/><path d="M1698 877A1300 1300 0 0 0 1757 326"/><path d="M1698 877A1300 1300 0 0 1 2280 1801"/><path d="M1698 877A1300 1300 0 0 1 2417 1829"/><path d="M1698 877A1300 1300 0 0 1 2337 1488"/><path d="M1698 877A1300 1300 0 0 1 1360 1893"/><path d="M1698 877A1300 1300 0 0 0 1349 1492"/>
<path d="M1808 1125A1300 1300 0 0 1 2280 1801"/><path d="M1808 1125A1300 1300 0 0 1 2417 1829"/><path d="M1808 1125A1300 1300 0 0 1 2337 1488"/><path d="M1808 1125A1300 1300 0 0 1 1360 1893"/><path d="M1808 1125A1300 1300 0 0 0 1349 1492"/><path d="M1808 1125A1300 1300 0 0 1 2074 1457"/><path d="M1808 1125A1300 1300 0 0 0 2355 530"/>
<path d="M2280 1801A1300 1300 0 0 1 2417 1829"/><path d="M2280 1801A1300 1300 0 0 0 1627 1266"/><path d="M2280 1801A1300 1300 0 0 1 1360 1893"/>
<path d="M2417 1829A1300 1300 0 0 0 1627 1266"/><path d="M2417 1829A1300 1300 0 0 1 1360 1893"/><path d="M2417 1829A1300 1300 0 0 0 2355 530"/><path d="M2417 1829A1300 1300 0 0 0 2074 1457"/>
</g>
</g>
<g id="nodes">
<g id="n-k1"><circle class="K" cx="1808" cy="1125" r="139"/></g>
<g id="n-k2"><circle class="K" cx="1698" cy="877" r="111"/></g>
<g id="n-g0"><circle class="G" cx="1556" cy="1737" r="87"/></g>
<g id="n-y15"><circle class="Y" cx="1141" cy="2032" r="85"/></g>
<g id="n-p15"><circle class="P" cx="1280" cy="1315" r="82"/></g>
<g id="n-y3"><circle class="Y" cx="1115" cy="1388" r="69"/></g>
<g id="n-r20"><circle class="R" cx="1454" cy="863" r="64"/></g>
<g id="n-br5"><circle class="N" cx="1037" cy="1438" r="52"/></g>
<g id="n-p17"><circle class="P" cx="1804" cy="1405" r="52"/></g>
<g id="n-o14"><circle class="O" cx="1556" cy="1556" r="49"/></g>
<g id="n-y5"><circle class="Y" cx="946" cy="1500" r="49"/></g>
<g id="n-c7"><circle class="C" cx="2013" cy="1056" r="47"/></g>
<g id="n-b6"><circle class="B" cx="1011" cy="1320" r="47"/></g>
<g id="n-g10"><circle class="G" cx="2028" cy="1848" r="45"/></g>
<g id="n-r28"><circle class="R" cx="1367" cy="1247" r="43"/></g>
<g id="n-b3"><circle class="B" cx="1023" cy="1108" r="42"/></g>
<g id="n-g9"><circle class="G" cx="1608" cy="1841" r="40"/></g>
<g id="n-g13"><circle class="G" cx="1980" cy="1983" r="40"/></g>
<g id="n-c6"><circle class="C" cx="1834" cy="929" r="38"/></g>
<g id="n-r30"><circle class="R" cx="1627" cy="1478" r="36"/></g>
<g id="n-br3"><circle class="N" cx="814" cy="1348" r="36"/></g>
<g id="n-r17"><circle class="R" cx="1533" cy="785" r="35"/></g>
<g id="n-r13"><circle class="R" cx="1188" cy="663" r="35"/></g>
<g id="n-b4"><circle class="B" cx="957" cy="1224" r="35"/></g>
<g id="n-b8"><circle class="B" cx="936" cy="1398" r="35"/></g>
<g id="n-g5"><circle class="G" cx="1678" cy="1695" r="35"/></g>
<g id="n-p13"><circle class="P" cx="1528" cy="1094" r="35"/></g>
<g id="n-g18"><circle class="G" cx="2202" cy="2105" r="33"/></g>
<g id="n-r21"><circle class="R" cx="1160" cy="894" r="30"/></g>
<g id="n-p6"><circle class="P" cx="1455" cy="549" r="30"/></g>
<g id="n-y9"><circle class="Y" cx="959" cy="1657" r="30"/></g>
<g id="n-y11"><circle class="Y" cx="924" cy="1752" r="30"/></g>
<g id="n-o4"><circle class="O" cx="1197" cy="781" r="26"/></g>
<g id="n-y7"><circle class="Y" cx="512" cy="1625" r="26"/></g>
<g id="n-br6"><circle class="N" cx="1197" cy="1610" r="26"/></g>
<g id="n-p8"><circle class="P" cx="1782" cy="688" r="24"/></g>
<g id="n-r33"><circle class="R" cx="1127" cy="1744" r="24"/></g>
<g id="n-b13"><circle class="B" cx="1243" cy="1690" r="24"/></g>
<g id="n-y8"><circle class="Y" cx="715" cy="1660" r="24"/></g>
<g id="n-b26"><circle class="B" cx="1856" cy="1285" r="24"/></g>
<g id="n-o12"><circle class="O" cx="590" cy="1697" r="23"/></g>
<g id="n-y10"><circle class="Y" cx="1071" cy="1691" r="23"/></g>
<g id="n-y19"><circle class="Y" cx="663" cy="2245" r="23"/></g>
<g id="n-r19"><circle class="R" cx="884" cy="901" r="23"/></g>
<g id="n-r18"><circle class="R" cx="754" cy="828" r="23"/></g>
<g id="n-p12"><circle class="P" cx="2261" cy="1016" r="23"/></g>
<g id="n-g14"><circle class="G" cx="2192" cy="1968" r="21"/></g>
<g id="n-c2"><circle class="C" cx="641" cy="808" r="21"/></g>
<g id="n-y2"><circle class="Y" cx="1032" cy="922" r="21"/></g>
<g id="n-g1"><circle class="G" cx="1514" cy="1462" r="21"/></g>
<g id="n-g8"><circle class="G" cx="1749" cy="1829" r="21"/></g>
<g id="n-br4"><circle class="N" cx="1210" cy="1434" r="21"/></g>
<g id="n-o3"><circle class="O" cx="941" cy="731" r="19"/></g>
<g id="n-o1"><circle class="O" cx="1438" cy="425" r="19"/></g>
<g id="n-r5"><circle class="R" cx="1245" cy="382" r="19"/></g>
<g id="n-r6"><circle class="R" cx="1038" cy="438" r="19"/></g>
<g id="n-g15"><circle class="G" cx="1625" cy="2001" r="19"/></g>
<g id="n-r14"><circle class="R" cx="1049" cy="677" r="17"/></g>
<g id="n-r3"><circle class="R" cx="1002" cy="314" r="17"/></g>
<g id="n-r25"><circle class="R" cx="1888" cy="973" r="17"/></g>
<g id="n-b5"><circle class="B" cx="1400" cy="1151" r="17"/></g>
<g id="n-b10"><circle class="B" cx="1094" cy="1556" r="17"/></g>
<g id="n-b11"><circle class="B" cx="1455" cy="1585" r="17"/></g>
<g id="n-c13"><circle class="C" cx="2167" cy="1191" r="17"/></g>
<g id="n-c11"><circle class="C" cx="1603" cy="1037" r="17"/></g>
<g id="n-c3"><circle class="C" cx="2172" cy="834" r="17"/></g>
<g id="n-g3"><circle class="G" cx="2202" cy="1542" r="17"/></g>
<g id="n-g4"><circle class="G" cx="2086" cy="1568" r="17"/></g>
<g id="n-g20"><circle class="G" cx="1434" cy="2126" r="17"/></g>
<g id="n-b25"><circle class="B" cx="1379" cy="2334" r="17"/></g>
<g id="n-b21"><circle class="B" cx="1040" cy="2164" r="17"/></g>
<g id="n-b20"><circle class="B" cx="1344" cy="2075" r="17"/></g>
<g id="n-k3"><circle class="K" cx="1620" cy="1177" r="17"/></g>
<g id="n-p7"><circle class="P f" cx="1547" cy="578" r="17"/></g>
<g id="n-r16"><circle class="R" cx="1664" cy="688" r="16"/></g>
<g id="n-o5"><circle class="O" cx="1077" cy="799" r="16"/></g>
<g id="n-o2"><circle class="O" cx="653" cy="653" r="16"/></g>
<g id="n-b1"><circle class="B" cx="611" cy="933" r="16"/></g>
<g id="n-b2"><circle class="B" cx="478" cy="1025" r="16"/></g>
<g id="n-c12"><circle class="C" cx="1942" cy="1164" r="16"/></g>
<g id="n-p11"><circle class="P" cx="2094" cy="908" r="16"/></g>
<g id="n-r31"><circle class="R" cx="1968" cy="1438" r="16"/></g>
<g id="n-g11"><circle class="G" cx="1884" cy="1902" r="16"/></g>
<g id="n-b19"><circle class="B" cx="1023" cy="2067" r="16"/></g>
<g id="n-b17"><circle class="B" cx="809" cy="1830" r="16"/></g>
<g id="n-b9"><circle class="B" cx="427" cy="1483" r="16"/></g>
<g id="n-r27"><circle class="R" cx="792" cy="1263" r="16"/></g>
<g id="n-br2"><circle class="N" cx="1172" cy="1235" r="16"/></g>
<g id="n-r22"><circle class="R" cx="726" cy="1004" r="16"/></g>
<g id="n-o6"><circle class="O" cx="240" cy="922" r="17"/></g>
<g id="n-y22"><circle class="Y" cx="1660" cy="1577" r="16"/></g>
<g id="n-c4"><circle class="C" cx="2490" cy="842" r="14"/></g>
<g id="n-c10"><circle class="C" cx="2594" cy="1127" r="14"/></g>
<g id="n-r24"><circle class="R" cx="1921" cy="804" r="14"/></g>
<g id="n-r32"><circle class="R" cx="2192" cy="1302" r="14"/></g>
<g id="n-r29"><circle class="R" cx="1464" cy="1386" r="14"/></g>
<g id="n-g6"><circle class="G" cx="2021" cy="1684" r="14"/></g>
<g id="n-g7"><circle class="G" cx="2103" cy="1777" r="14"/></g>
<g id="n-k4"><circle class="K" cx="2280" cy="1801" r="14"/></g>
<g id="n-g16"><circle class="G" cx="1690" cy="2093" r="14"/></g>
<g id="n-g21"><circle class="G" cx="1837" cy="2160" r="14"/></g>
<g id="n-g22"><circle class="G" cx="1928" cy="2171" r="14"/></g>
<g id="n-g25"><circle class="G" cx="1658" cy="2294" r="14"/></g>
<g id="n-b23"><circle class="B" cx="908" cy="2282" r="14"/></g>
<g id="n-y18"><circle class="Y" cx="1290" cy="2178" r="14"/></g>
<g id="n-y17"><circle class="Y" cx="1197" cy="2152" r="14"/></g>
<g id="n-y16"><circle class="Y" cx="590" cy="2164" r="14"/></g>
<g id="n-b18"><circle class="B" cx="649" cy="1974" r="14"/></g>
<g id="n-b16"><circle class="B" cx="676" cy="1770" r="14"/></g>
<g id="n-y6"><circle class="Y" cx="568" cy="1525" r="14"/></g>
<g id="n-b7"><circle class="B" cx="583" cy="1386" r="14"/></g>
<g id="n-r23"><circle class="R" cx="882" cy="1063" r="14"/></g>
<g id="n-r7"><circle class="R" cx="874" cy="462" r="14"/></g>
<g id="n-p1"><circle class="P" cx="1757" cy="326" r="14"/></g>
<g id="n-p2"><circle class="P" cx="1948" cy="457" r="14"/></g>
<g id="n-p3"><circle class="P" cx="2120" cy="483" r="14"/></g>
<g id="n-p5"><circle class="P" cx="1990" cy="573" r="14"/></g>
<g id="n-o11"><circle class="O" cx="533" cy="1280" r="12"/></g>
<g id="n-p19"><circle class="P" cx="1556" cy="2452" r="12"/></g>
<g id="n-y21"><circle class="Y" cx="1084" cy="2414" r="12"/></g>
<g id="n-o13"><circle class="O" cx="762" cy="2100" r="10"/></g>
<g id="n-r12"><circle class="R" cx="830" cy="597" r="10"/></g>
<g id="n-r10"><circle class="R" cx="1365" cy="585" r="10"/></g>
<g id="n-y1"><circle class="Y" cx="1332" cy="719" r="9"/></g>
<g id="n-nickel"><circle class="P" cx="1627" cy="1266" r="184" fill-opacity=".8"/><text x="1455" y="1322" font-size="125" textLength="344" lengthAdjust="spacingAndGlyphs">nickel</text></g>
<g id="n-bp"><circle cx="1719" cy="1129" r="83" fill="#9a8ae0" fill-opacity=".45"/></g>
<g id="n-p20"><circle cx="1704" cy="1358" r="31" fill="#8a7fd6" fill-opacity=".6"/></g>
<g id="n-co2-methanation"><circle class="R" cx="1294" cy="960" r="182" fill-opacity=".8"/><circle cx="1309" cy="816" r="31" fill="#f47a30" fill-opacity=".6"/><circle cx="1325" cy="900" r="9" fill="#c86f7a"/><text x="790" y="1025" font-size="130" textLength="985" lengthAdjust="spacingAndGlyphs">co2 methanation</text></g>
<g id="n-hydrogen"><circle class="G" cx="1360" cy="1893" r="174" fill-opacity=".82"/><text x="1098" y="1936" font-size="118" textLength="526" lengthAdjust="spacingAndGlyphs">hydrogen</text></g>
<g id="n-methane"><circle class="Y" cx="1349" cy="1492" r="137" fill-opacity=".8"/><text x="1137" y="1540" font-size="100" textLength="431" lengthAdjust="spacingAndGlyphs">methane</text></g>
<g id="n-ni-catalyst"><circle class="R" cx="882" cy="1294" r="64"/><text x="721" y="1320" font-size="58" textLength="333" lengthAdjust="spacingAndGlyphs">ni catalyst</text></g>
<g id="n-co2"><circle class="C" cx="1801" cy="1527" r="61"/><text x="1750" y="1543" font-size="55" textLength="104" lengthAdjust="spacingAndGlyphs">co2</text></g>
<g id="n-synthesis-gas"><circle class="Y" cx="715" cy="1488" r="52"/><text x="514" y="1512" font-size="55" textLength="389" lengthAdjust="spacingAndGlyphs">synthesis gas</text></g>
<g id="n-co2-reduction"><circle class="C" cx="2152" cy="1096" r="52"/><text x="1961" y="1116" font-size="55" textLength="379" lengthAdjust="spacingAndGlyphs">co2 reduction</text></g>
<g id="n-glycerol"><circle class="G" cx="1785" cy="1935" r="52"/><text x="1672" y="1953" font-size="55" textLength="221" lengthAdjust="spacingAndGlyphs">glycerol</text></g>
<g id="n-catalysis"><circle class="G" cx="2074" cy="1457" r="45"/><text x="1954" y="1473" font-size="52" textLength="238" lengthAdjust="spacingAndGlyphs">catalysis</text></g>
<g id="n-co2-utilization"><circle class="B" cx="1429" cy="1686" r="42"/><text x="1236" y="1705" font-size="55" textLength="373" lengthAdjust="spacingAndGlyphs">co2 utilization</text></g>
<g id="n-heterogeneous-catalysis"><circle class="P" cx="1443" cy="738" r="40"/><text x="1094" y="754" font-size="58" textLength="674" lengthAdjust="spacingAndGlyphs">heterogeneous catalysis</text></g>
<g id="n-kinetics"><circle class="G" cx="1563" cy="2119" r="40"/><text x="1459" y="2137" font-size="55" textLength="205" lengthAdjust="spacingAndGlyphs">kinetics</text></g>
<g id="n-reaction-mechanism"><circle class="C" cx="1704" cy="573" r="36"/><text x="1441" y="598" font-size="55" textLength="505" lengthAdjust="spacingAndGlyphs">reaction mechanism</text></g>
<g id="n-cobalt"><circle class="P" cx="1078" cy="1148" r="35"/><text x="995" y="1170" font-size="50" textLength="163" lengthAdjust="spacingAndGlyphs">cobalt</text></g>
<g id="n-gasification"><circle class="G" cx="2034" cy="2093" r="31"/><text x="1898" y="2111" font-size="50" textLength="269" lengthAdjust="spacingAndGlyphs">gasification</text></g>
<g id="n-steam-methane-reforming"><circle class="B" cx="771" cy="2218" r="30"/><text x="469" y="2234" font-size="50" textLength="616" lengthAdjust="spacingAndGlyphs">steam methane reforming</text></g>
<g id="n-ruthenium"><circle class="P" cx="2337" cy="1488" r="30"/><text x="2205" y="1503" font-size="50" textLength="259" lengthAdjust="spacingAndGlyphs">ruthenium</text></g>
<g id="n-oxygen-vacancies"><circle class="R" cx="1348" cy="365" r="28"/><text x="1150" y="383" font-size="50" textLength="406" lengthAdjust="spacingAndGlyphs">oxygen vacancies</text></g>
<g id="n-co"><circle class="C" cx="1900" cy="1539" r="26"/><text x="1877" y="1552" font-size="38" textLength="50" lengthAdjust="spacingAndGlyphs">co</text></g>
<g id="n-bio-oil"><circle class="G" cx="1516" cy="2261" r="24"/><text x="1441" y="2273" font-size="46" textLength="156" lengthAdjust="spacingAndGlyphs">bio-oil</text></g>
<g id="n-confinement-effect"><circle class="R" cx="750" cy="733" r="21"/><text x="545" y="752" font-size="44" textLength="406" lengthAdjust="spacingAndGlyphs">confinement effect</text></g>
<g id="n-bimetallic-catalysts"><circle class="B" cx="794" cy="1605" r="21"/><text x="578" y="1618" font-size="46" textLength="432" lengthAdjust="spacingAndGlyphs">bimetallic catalysts</text></g>
<g id="n-deactivation"><circle class="B" cx="849" cy="1707" r="21"/><text x="703" y="1725" font-size="48" textLength="288" lengthAdjust="spacingAndGlyphs">deactivation</text></g>
<g id="n-mesoporous-alumina"><circle class="O" cx="266" cy="1033" r="17"/><text x="36" y="1047" font-size="46" textLength="476" lengthAdjust="spacingAndGlyphs">mesoporous alumina</text></g>
<g id="n-zirconia"><circle class="P f" cx="2063" cy="1228" r="17"/><text x="1980" y="1238" font-size="44" textLength="175" lengthAdjust="spacingAndGlyphs">zirconia</text></g>
<g id="n-sol-gel"><circle class="N" cx="1249" cy="1148" r="16"/><text x="1172" y="1160" font-size="44" textLength="165" lengthAdjust="spacingAndGlyphs">sol-gel</text></g>
<g id="n-photothermal-catalysis"><circle class="C" cx="2346" cy="893" r="16"/><text x="2115" y="917" font-size="44" textLength="488" lengthAdjust="spacingAndGlyphs">photothermal catalysis</text></g>
<g id="n-layered-double-hydroxides"><circle class="O" cx="408" cy="880" r="14"/><text x="122" y="892" font-size="46" textLength="599" lengthAdjust="spacingAndGlyphs">layered double hydroxides</text></g>
<g id="n-electrocatalysis"><circle class="C" cx="2537" cy="1028" r="14"/><text x="2381" y="1050" font-size="44" textLength="330" lengthAdjust="spacingAndGlyphs">electrocatalysis</text></g>
<g id="n-drifts"><circle class="R" cx="1625" cy="455" r="14"/><text x="1572" y="474" font-size="44" textLength="113" lengthAdjust="spacingAndGlyphs">drifts</text></g>
<g id="n-power-to-gas"><circle class="K" cx="2417" cy="1829" r="12"/><text x="2289" y="1855" font-size="44" textLength="273" lengthAdjust="spacingAndGlyphs">power to gas</text></g>
<g id="n-perovskites"><circle class="Y" cx="524" cy="1872" r="14"/><text x="406" y="1894" font-size="44" textLength="241" lengthAdjust="spacingAndGlyphs">perovskites</text></g>
<g id="n-sofc"><circle class="Y" cx="1006" cy="2325" r="14"/><text x="966" y="2356" font-size="44" textLength="85" lengthAdjust="spacingAndGlyphs">sofc</text></g>
<g id="n-chemical-looping-reforming"><circle class="G" cx="2079" cy="2211" r="14"/><text x="1801" y="2235" font-size="46" textLength="584" lengthAdjust="spacingAndGlyphs">chemical looping reforming</text></g>
<g id="n-biomass-gasification"><circle class="G" cx="1926" cy="2410" r="14"/><text x="1702" y="2428" font-size="46" textLength="457" lengthAdjust="spacingAndGlyphs">biomass gasification</text></g>
<g id="n-supercritical-water"><circle class="G" cx="1874" cy="2310" r="14"/><text x="1771" y="2332" font-size="44" textLength="396" lengthAdjust="spacingAndGlyphs">supercritical water</text></g>
<g id="n-methanation-of-co2"><circle class="R" cx="1136" cy="45" r="12"/><text x="938" y="69" font-size="44" textLength="413" lengthAdjust="spacingAndGlyphs">methanation of co2</text></g>
<g id="n-reaction-intermediates"><circle class="R" cx="1191" cy="151" r="12"/><text x="957" y="175" font-size="44" textLength="488" lengthAdjust="spacingAndGlyphs">reaction intermediates</text></g>
<g id="n-titania"><circle class="P" cx="2355" cy="530" r="12"/><text x="2289" y="549" font-size="44" textLength="141" lengthAdjust="spacingAndGlyphs">titania</text></g>
<g id="n-reaction-kinetics"><circle class="O" cx="486" cy="1160" r="12"/><text x="316" y="1184" font-size="44" textLength="349" lengthAdjust="spacingAndGlyphs">reaction kinetics</text></g>
<g id="n-coking-resistance"><circle class="Y" cx="884" cy="1922" r="12"/><text x="709" y="1952" font-size="44" textLength="363" lengthAdjust="spacingAndGlyphs">coking resistance</text></g>
<g id="n-tri-reforming"><circle class="Y" cx="524" cy="1987" r="12"/><text x="389" y="2013" font-size="46" textLength="281" lengthAdjust="spacingAndGlyphs">tri-reforming</text></g>
<g id="n-support"><circle class="P f" cx="2020" cy="837" r="12"/><text x="1933" y="861" font-size="44" textLength="179" lengthAdjust="spacingAndGlyphs">support</text></g>
<g id="n-carbon-dioxide-methanation"><circle class="R" cx="1051" cy="573" r="10"/><text x="761" y="599" font-size="46" textLength="603" lengthAdjust="spacingAndGlyphs">carbon dioxide methanation</text></g>
<g id="n-microwave"><circle class="R" cx="742" cy="495" r="10"/><text x="643" y="510" font-size="38" textLength="201" lengthAdjust="spacingAndGlyphs">microwave</text></g>
<g id="n-co2-activation"><circle class="R" cx="1063" cy="470" r="10"/><text x="993" y="484" font-size="44" textLength="290" lengthAdjust="spacingAndGlyphs">co2 activation</text></g>
<g id="n-nickel-nanoparticles"><circle class="P f" cx="1881" cy="271" r="10"/><text x="1674" y="292" font-size="44" textLength="427" lengthAdjust="spacingAndGlyphs">nickel nanoparticles</text></g>
<g id="n-la2o3"><circle class="O" cx="736" cy="1132" r="10"/><text x="682" y="1151" font-size="38" textLength="113" lengthAdjust="spacingAndGlyphs">la2o3</text></g>
<g id="n-energy-efficiency"><circle class="B" cx="1226" cy="2337" r="10"/><text x="1075" y="2354" font-size="38" textLength="320" lengthAdjust="spacingAndGlyphs">energy efficiency</text></g>
<g id="n-induction-heating"><circle class="B f" cx="379" cy="1274" r="10"/><text x="222" y="1288" font-size="38" textLength="330" lengthAdjust="spacingAndGlyphs">induction heating</text></g>
<g id="n-renewable-energy"><circle class="G f" cx="1922" cy="1723" r="8"/><text x="1733" y="1735" font-size="44" textLength="379" lengthAdjust="spacingAndGlyphs">renewable energy</text></g>
<g id="n-coking"><circle class="Y f" cx="978" cy="1837" r="8"/><text x="905" y="1849" font-size="46" textLength="146" lengthAdjust="spacingAndGlyphs">coking</text></g>
<g id="n-solid-oxide-fuel-cell"><circle class="Y f" cx="919" cy="2122" r="10"/><text x="700" y="2134" font-size="46" textLength="439" lengthAdjust="spacingAndGlyphs">solid oxide fuel cell</text></g>
</g>
</svg>
